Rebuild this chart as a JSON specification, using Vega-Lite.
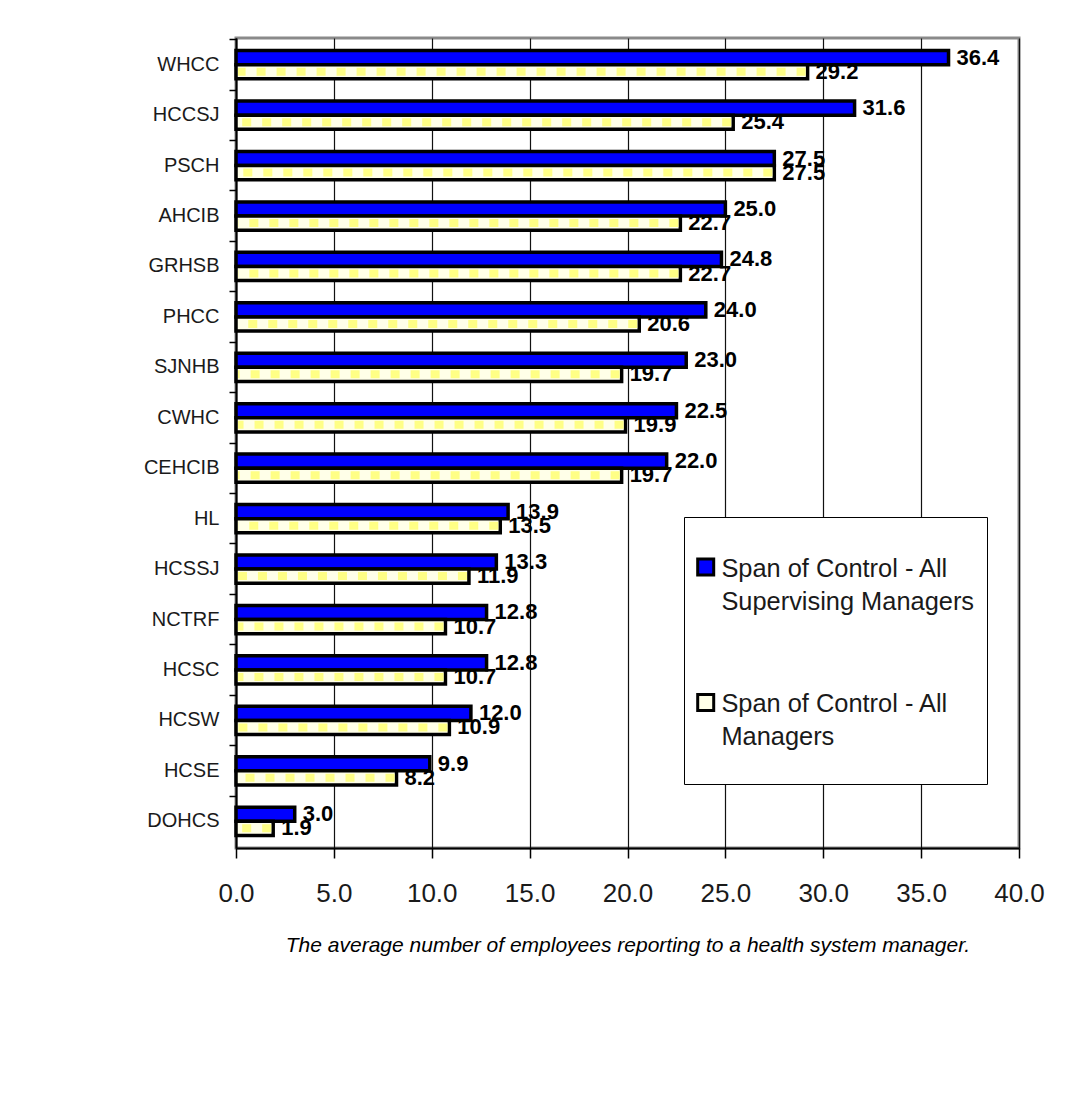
{
  "$schema": "https://vega.github.io/schema/vega-lite/v6.json",
  "width": 783,
  "height": 810,
  "autosize": {"type": "none"},
  "padding": {"left": 236, "top": 38, "right": 47, "bottom": 245},
  "background": "white",
  "data": {
    "values": [
      {"org": "WHCC", "series": "Span of Control - All Supervising Managers", "value": 36.4},
      {"org": "WHCC", "series": "Span of Control - All Managers", "value": 29.2},
      {"org": "HCCSJ", "series": "Span of Control - All Supervising Managers", "value": 31.6},
      {"org": "HCCSJ", "series": "Span of Control - All Managers", "value": 25.4},
      {"org": "PSCH", "series": "Span of Control - All Supervising Managers", "value": 27.5},
      {"org": "PSCH", "series": "Span of Control - All Managers", "value": 27.5},
      {"org": "AHCIB", "series": "Span of Control - All Supervising Managers", "value": 25.0},
      {"org": "AHCIB", "series": "Span of Control - All Managers", "value": 22.7},
      {"org": "GRHSB", "series": "Span of Control - All Supervising Managers", "value": 24.8},
      {"org": "GRHSB", "series": "Span of Control - All Managers", "value": 22.7},
      {"org": "PHCC", "series": "Span of Control - All Supervising Managers", "value": 24.0},
      {"org": "PHCC", "series": "Span of Control - All Managers", "value": 20.6},
      {"org": "SJNHB", "series": "Span of Control - All Supervising Managers", "value": 23.0},
      {"org": "SJNHB", "series": "Span of Control - All Managers", "value": 19.7},
      {"org": "CWHC", "series": "Span of Control - All Supervising Managers", "value": 22.5},
      {"org": "CWHC", "series": "Span of Control - All Managers", "value": 19.9},
      {"org": "CEHCIB", "series": "Span of Control - All Supervising Managers", "value": 22.0},
      {"org": "CEHCIB", "series": "Span of Control - All Managers", "value": 19.7},
      {"org": "HL", "series": "Span of Control - All Supervising Managers", "value": 13.9},
      {"org": "HL", "series": "Span of Control - All Managers", "value": 13.5},
      {"org": "HCSSJ", "series": "Span of Control - All Supervising Managers", "value": 13.3},
      {"org": "HCSSJ", "series": "Span of Control - All Managers", "value": 11.9},
      {"org": "NCTRF", "series": "Span of Control - All Supervising Managers", "value": 12.8},
      {"org": "NCTRF", "series": "Span of Control - All Managers", "value": 10.7},
      {"org": "HCSC", "series": "Span of Control - All Supervising Managers", "value": 12.8},
      {"org": "HCSC", "series": "Span of Control - All Managers", "value": 10.7},
      {"org": "HCSW", "series": "Span of Control - All Supervising Managers", "value": 12.0},
      {"org": "HCSW", "series": "Span of Control - All Managers", "value": 10.9},
      {"org": "HCSE", "series": "Span of Control - All Supervising Managers", "value": 9.9},
      {"org": "HCSE", "series": "Span of Control - All Managers", "value": 8.2},
      {"org": "DOHCS", "series": "Span of Control - All Supervising Managers", "value": 3.0},
      {"org": "DOHCS", "series": "Span of Control - All Managers", "value": 1.9}
    ]
  },
  "config": {
    "font": "Liberation Sans",
    "view": {"stroke": "#8a8a8a", "strokeWidth": 3},
    "legend": {
      "orient": "none",
      "legendX": 448,
      "legendY": 479,
      "fillColor": "white",
      "strokeColor": "black",
      "padding": 12,
      "titleFontSize": 14,
      "titlePadding": 7.5,
      "titleOrient": "bottom",
      "clipHeight": 76,
      "symbolType": "square",
      "symbolSize": 256,
      "symbolStrokeWidth": 3,
      "symbolStrokeColor": "black",
      "symbolOffset": -3,
      "labelFontSize": 25.4,
      "labelColor": "#1a1a1a",
      "labelBaseline": "top",
      "labelOffset": 3,
      "labelLimit": 400,
      "rowPadding": 49.5
    }
  },
  "encoding": {
    "y": {
      "field": "org",
      "type": "nominal",
      "sort": ["WHCC", "HCCSJ", "PSCH", "AHCIB", "GRHSB", "PHCC", "SJNHB", "CWHC", "CEHCIB", "HL", "HCSSJ", "NCTRF", "HCSC", "HCSW", "HCSE", "DOHCS"],
      "scale": {"paddingInner": 0.44, "paddingOuter": 0.25},
      "axis": {
        "title": null,
        "domainColor": "black",
        "domainWidth": 2,
        "tickColor": "black",
        "tickSize": 7,
        "tickWidth": 1.5,
        "bandPosition": -0.39,
        "labelFontSize": 20,
        "labelColor": "#1a1a1a",
        "labelPadding": 10,
        "grid": false
      }
    }
  },
  "layer": [
    {
      "mark": {"type": "bar", "stroke": "black", "strokeWidth": 3.5},
      "encoding": {
        "yOffset": {
          "field": "series",
          "type": "nominal",
          "sort": ["Span of Control - All Supervising Managers", "Span of Control - All Managers"]
        },
        "x": {
          "field": "value",
          "type": "quantitative",
          "scale": {"domain": [0, 40], "nice": false},
          "axis": {
            "title": "The average number of employees reporting to a health system manager.",
            "titleFontStyle": "italic",
            "titleFontWeight": "normal",
            "titleFontSize": 21,
            "titleColor": "black",
            "titlePadding": 28,
            "values": [0, 5, 10, 15, 20, 25, 30, 35, 40],
            "format": ".1f",
            "labelFontSize": 26,
            "labelColor": "#1a1a1a",
            "labelPadding": 22,
            "labelFlush": false,
            "tickSize": 10,
            "tickColor": "black",
            "tickWidth": 1.5,
            "domainColor": "black",
            "domainWidth": 2,
            "grid": true,
            "gridColor": "#111111",
            "gridWidth": 1.2,
            "gridOpacity": 1
          }
        },
        "color": {
          "field": "series",
          "type": "nominal",
          "scale": {
            "domain": ["Span of Control - All Supervising Managers", "Span of Control - All Managers"],
            "range": ["#0000FF", "#FFFFE8"]
          },
          "legend": {
            "title": " ",
            "labelExpr": "[slice(datum.label, 0, 21), slice(datum.label, 22)]",
            "encode": {
              "labels": {"update": {"dy": {"value": -10.5}, "lineHeight": {"value": 33}}}
            }
          }
        }
      }
    },
    {
      "transform": [{"filter": "datum.series == 'Span of Control - All Managers'"}],
      "mark": {
        "type": "rule",
        "color": "#FFFF85",
        "strokeWidth": 8,
        "strokeDash": [9, 11],
        "strokeCap": "butt",
        "yOffset": 7,
        "xOffset": -2,
        "x2Offset": 2
      },
      "encoding": {
        "x": {"field": "value", "type": "quantitative"},
        "x2": {"datum": 0}
      }
    },
    {
      "mark": {
        "type": "text",
        "align": "left",
        "baseline": "middle",
        "dx": 8,
        "fontSize": 22,
        "fontWeight": "bold",
        "color": "black"
      },
      "encoding": {
        "yOffset": {
          "field": "series",
          "type": "nominal",
          "sort": ["Span of Control - All Supervising Managers", "Span of Control - All Managers"]
        },
        "x": {"field": "value", "type": "quantitative"},
        "text": {"field": "value", "type": "quantitative", "format": ".1f"}
      }
    }
  ]
}
